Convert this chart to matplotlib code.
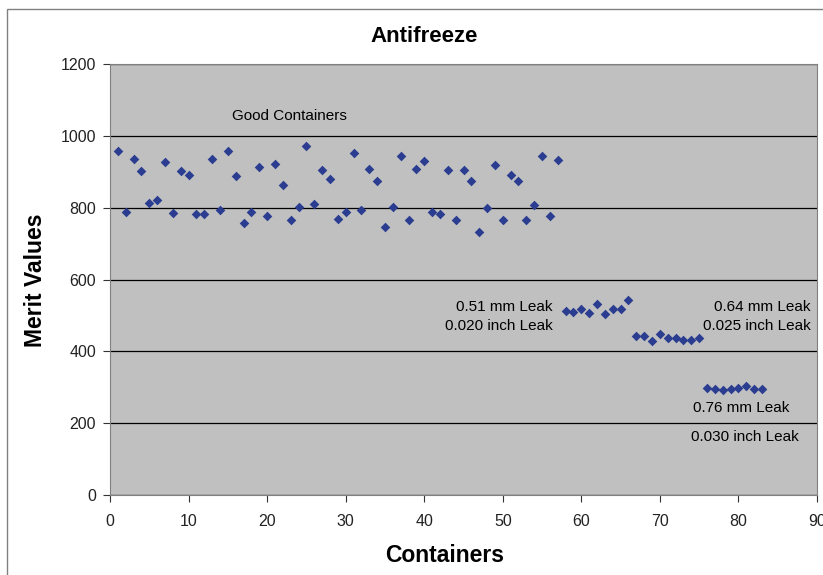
import matplotlib
matplotlib.use("Agg")
import matplotlib.pyplot as plt
from matplotlib.patches import Rectangle

plt.rcParams['font.family'] = ['Liberation Sans', 'DejaVu Sans']

containers = list(range(1, 84))
merit_values = [
    958, 789, 936, 901, 814, 821, 928, 785, 901, 892,
    781, 781, 936, 793, 959, 887, 756, 789, 914, 778,
    922, 864, 766, 803, 971, 811, 906, 881, 769, 789,
    952, 793, 909, 875, 745, 803, 943, 766, 909, 929,
    789, 781, 906, 766, 906, 875, 731, 800, 919, 766,
    892, 875, 766, 807, 943, 778, 932,
    513, 510, 517, 507, 532, 504, 519, 519, 544,
    442, 442, 430, 449, 437, 437, 432, 432, 437,
    297, 295, 293, 296, 298, 303, 296, 296,
]

x_ticks = [0, 10, 20, 30, 40, 50, 60, 70, 80, 90]
y_ticks = [0, 200, 400, 600, 800, 1000, 1200]

W, H = 823, 575
fig = plt.figure(figsize=(W / 100, H / 100), dpi=100)
fig.patch.set_facecolor('white')

# outer chart border
fig.patches.append(Rectangle((7 / W, -0.1), 1.2, 1 - 9 / H + 0.1, transform=fig.transFigure,
                             fill=False, edgecolor='#808080', linewidth=1.0))

ax = fig.add_axes([110 / W, 1 - 495 / H, 707 / W, 431 / H])
ax.set_facecolor('#C0C0C0')
ax.scatter(containers, merit_values, marker='D', s=24, color='#2B3D91', zorder=3, linewidths=0)

ax.set_xlim(0, 90)
ax.set_ylim(0, 1200)
ax.set_xticks(x_ticks)
ax.set_yticks(y_ticks)
ax.yaxis.grid(True, color='black', linewidth=0.9)
ax.set_axisbelow(True)
for s in ax.spines.values():
    s.set_color('#808080')
ax.tick_params(axis='both', direction='out', length=5, width=0.8, color='#333333',
               labelsize=11.5, labelcolor='#222222')
ax.tick_params(axis='x', pad=9)
ax.tick_params(axis='y', pad=5)

fig.text(424 / W, 1 - 37 / H, 'Antifreeze', fontsize=16, fontweight='bold', ha='center', va='center')
fig.text(445 / W, 1 - 556 / H, 'Containers', fontsize=16.5, fontweight='bold', ha='center', va='center')
fig.text(35 / W, 1 - 280 / H, 'Merit Values', fontsize=16.5, fontweight='bold', ha='center',
         va='center', rotation=90)

fs = 11
ax.text(22.9, 1055, 'Good Containers', fontsize=fs, ha='center', va='center')
ax.text(56.3, 523, '0.51 mm Leak', fontsize=fs, ha='right', va='center')
ax.text(56.3, 470, '0.020 inch Leak', fontsize=fs, ha='right', va='center')
ax.text(89.2, 523, '0.64 mm Leak', fontsize=fs, ha='right', va='center')
ax.text(89.2, 470, '0.025 inch Leak', fontsize=fs, ha='right', va='center')
ax.text(80.3, 242, '0.76 mm Leak', fontsize=fs, ha='center', va='center')
ax.text(80.8, 161, '0.030 inch Leak', fontsize=fs, ha='center', va='center')

fig.savefig('out.png', dpi=100)
